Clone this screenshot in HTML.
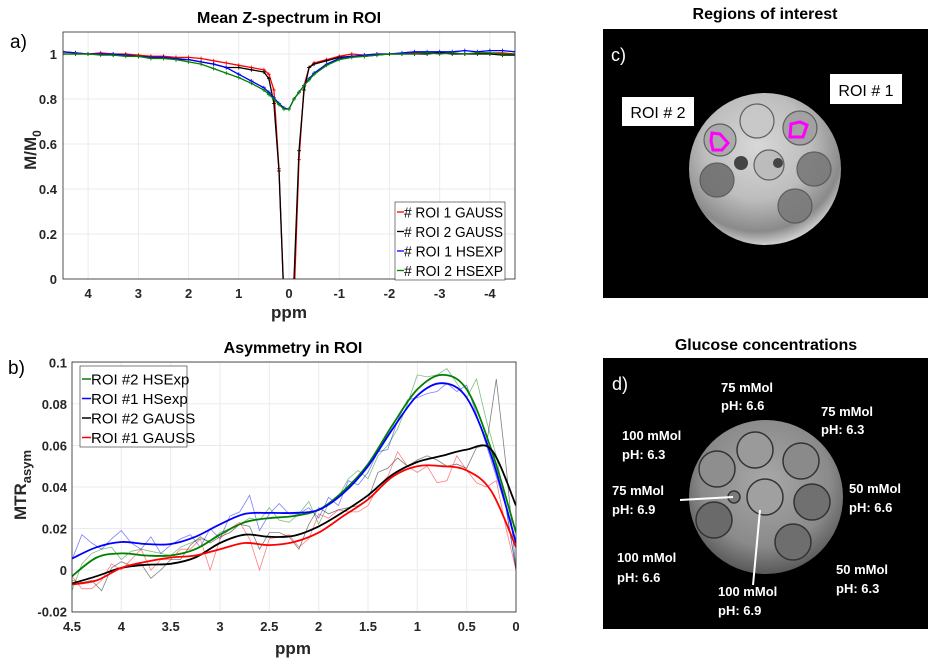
<!DOCTYPE html>
<html><head><meta charset="utf-8">
<style>
body{margin:0;background:#fff;width:939px;height:667px;overflow:hidden;font-family:"Liberation Sans",Arial,sans-serif}
svg text{font-family:"Liberation Sans",Arial,sans-serif}
</style></head>
<body>
<svg id="fig" width="939" height="667" viewBox="0 0 939 667" xmlns="http://www.w3.org/2000/svg">
<defs>
<clipPath id="clipA"><rect x="63" y="32" width="452" height="247"/></clipPath>
<clipPath id="clipB"><rect x="72" y="362" width="444" height="250"/></clipPath>
<radialGradient id="phantomC" cx="0.45" cy="0.35" r="0.7">
<stop offset="0" stop-color="#d8d8d8"/><stop offset="0.5" stop-color="#bdbdbd"/><stop offset="0.8" stop-color="#8a8a8a"/><stop offset="1" stop-color="#f2f2f2"/></radialGradient>
<radialGradient id="phantomD" cx="0.5" cy="0.4" r="0.7">
<stop offset="0" stop-color="#a8a8a8"/><stop offset="0.6" stop-color="#8a8a8a"/><stop offset="0.85" stop-color="#5a5a5a"/><stop offset="1" stop-color="#e8e8e8"/></radialGradient>
</defs>

<text x="289" y="23" font-size="16" font-weight="bold" text-anchor="middle">Mean Z-spectrum in ROI</text>
<text x="10" y="48" font-size="19">a)</text>
<text x="293" y="353" font-size="16" font-weight="bold" text-anchor="middle">Asymmetry in ROI</text>
<text x="8" y="374" font-size="19">b)</text>

<g id="chartA"></g>
<g id="chartB"></g>

<g>
<text x="765" y="19" font-size="16" font-weight="bold" text-anchor="middle">Regions of interest</text>
<rect x="603" y="29" width="325" height="269" fill="#000"/>
<circle cx="765" cy="169" r="76" fill="url(#phantomC)"/>
<g stroke="#555" stroke-width="1.2" opacity="0.9">
<circle cx="757" cy="121" r="17" fill="#c8c8c8"/>
<circle cx="800" cy="128" r="17" fill="#a0a0a0"/>
<circle cx="720" cy="140" r="16" fill="#a8a8a8"/>
<circle cx="769" cy="165" r="15" fill="#bbbbbb"/>
<circle cx="814" cy="169" r="17" fill="#7a7a7a"/>
<circle cx="717" cy="180" r="17" fill="#707070"/>
<circle cx="795" cy="206" r="17" fill="#7a7a7a"/>
</g>
<circle cx="741" cy="163" r="7" fill="#444"/>
<circle cx="778" cy="163" r="5" fill="#444"/>
<path d="M791,124 L800,122 L807,125 L803,137 L790,137 Z" fill="none" stroke="#ff00ff" stroke-width="3"/>
<path d="M712,133 L720,134 L728,143 L722,150 L713,150 L711,141 Z" fill="none" stroke="#ff00ff" stroke-width="3"/>
<text x="611" y="61" font-size="18" fill="#fff">c)</text>
<rect x="622" y="97" width="72" height="29" fill="#fff"/>
<text x="658" y="118" font-size="16" text-anchor="middle">ROI # 2</text>
<rect x="830" y="74" width="72" height="30" fill="#fff"/>
<text x="866" y="96" font-size="16" text-anchor="middle">ROI # 1</text>
</g>

<g>
<text x="766" y="350" font-size="16" font-weight="bold" text-anchor="middle">Glucose concentrations</text>
<rect x="603" y="358" width="325" height="271" fill="#000"/>
<circle cx="766" cy="497" r="77" fill="url(#phantomD)"/>
<g stroke="#333" stroke-width="1.5">
<circle cx="755" cy="450" r="18" fill="#9a9a9a"/>
<circle cx="801" cy="461" r="18" fill="#8a8a8a"/>
<circle cx="717" cy="469" r="18" fill="#8e8e8e"/>
<circle cx="765" cy="497" r="18" fill="#a0a0a0"/>
<circle cx="812" cy="502" r="18" fill="#707070"/>
<circle cx="714" cy="520" r="18" fill="#6a6a6a"/>
<circle cx="793" cy="542" r="18" fill="#6e6e6e"/>
<circle cx="734" cy="497" r="6" fill="#7a7a7a"/>
</g>
<line x1="680" y1="500" x2="733" y2="497" stroke="#fff" stroke-width="2"/>
<line x1="760" y1="510" x2="753" y2="585" stroke="#fff" stroke-width="2"/>
<text x="612" y="390" font-size="18" fill="#fff">d)</text>
<g fill="#fff" font-size="13" font-weight="bold">
<text x="721" y="392">75 mMol</text><text x="721" y="410">pH: 6.6</text>
<text x="821" y="416">75 mMol</text><text x="821" y="434">pH: 6.3</text>
<text x="622" y="440">100 mMol</text><text x="622" y="459">pH: 6.3</text>
<text x="612" y="495">75 mMol</text><text x="612" y="514">pH: 6.9</text>
<text x="849" y="493">50 mMol</text><text x="849" y="512">pH: 6.6</text>
<text x="617" y="562">100 mMol</text><text x="617" y="582">pH: 6.6</text>
<text x="836" y="574">50 mMol</text><text x="836" y="593">pH: 6.3</text>
<text x="718" y="596">100 mMol</text><text x="718" y="615">pH: 6.9</text>
</g>
</g>
</svg>

<script>
const zPpm = [4.5,4.25,4,3.75,3.5,3.25,3,2.75,2.5,2.25,2,1.75,1.5,1.25,1,0.75,0.5,0.4,0.3,0.2,0.1,0,-0.1,-0.2,-0.3,-0.4,-0.5,-0.75,-1,-1.25,-1.5,-1.75,-2,-2.25,-2.5,-2.75,-3,-3.25,-3.5,-3.75,-4,-4.25,-4.5];
const zRoi1Gauss = [1.01,1.005,1.0,1.005,1.0,1.0,0.995,0.99,0.99,0.985,0.985,0.98,0.97,0.96,0.95,0.94,0.93,0.91,0.84,0.49,-0.1,-0.2,-0.1,0.53,0.86,0.94,0.96,0.975,0.99,1.0,0.995,1.0,1.0,1.0,1.005,1.005,1.005,1.005,1.0,1.005,1.005,1.005,1.0];
const zRoi2Gauss = [1.0,1.0,1.0,1.0,0.995,0.995,0.99,0.985,0.985,0.975,0.975,0.965,0.955,0.94,0.94,0.93,0.92,0.89,0.78,0.48,-0.1,-0.2,0.0,0.57,0.84,0.94,0.955,0.97,0.985,0.99,0.99,0.995,1.0,1.0,1.0,1.0,1.005,1.0,1.0,1.0,1.0,0.995,0.995];
const zRoi1Hsexp = [1.01,1.005,1.0,1.0,1.0,0.995,0.99,0.985,0.985,0.98,0.975,0.965,0.955,0.94,0.91,0.88,0.85,0.83,0.805,0.78,0.76,0.755,0.8,0.83,0.86,0.89,0.915,0.955,0.98,0.99,0.995,1.0,1.0,1.005,1.01,1.01,1.01,1.01,1.015,1.01,1.015,1.015,1.01];
const zRoi2Hsexp = [1.0,1.0,1.0,0.995,0.995,0.99,0.99,0.98,0.98,0.975,0.965,0.955,0.935,0.915,0.895,0.87,0.84,0.82,0.8,0.775,0.755,0.755,0.8,0.83,0.86,0.885,0.91,0.95,0.975,0.985,0.99,0.995,1.0,1.0,1.0,1.005,1.0,1.005,1.0,1.005,1.005,1.0,1.0];
const zXTicks = [4,3,2,1,0,-1,-2,-3,-4];
const zXTickLabels = ["4","3","2","1","0","-1","-2","-3","-4"];
const zYTicks = [0,0.2,0.4,0.6,0.8,1];
const zYTickLabels = ["0","0.2","0.4","0.6","0.8","1"];
const zLegend = ["# ROI 1 GAUSS","# ROI 2 GAUSS","# ROI 1 HSEXP","# ROI 2 HSEXP"];

const aPpmRaw = [4.5,4.4,4.3,4.2,4.1,4.0,3.9,3.8,3.7,3.6,3.5,3.4,3.3,3.2,3.1,3.0,2.9,2.8,2.7,2.6,2.5,2.4,2.3,2.2,2.1,2.0,1.9,1.8,1.7,1.6,1.5,1.4,1.3,1.2,1.1,1.0,0.9,0.8,0.7,0.6,0.5,0.4,0.3,0.2,0.1,0.0];
const aRawRoi2Hs = [-0.01,0.003,0.008,0.01,0.011,0.005,0.009,0.01,0.009,0.008,0.007,0.011,0.013,0.015,0.014,0.018,0.02,0.022,0.025,0.024,0.03,0.024,0.023,0.027,0.033,0.022,0.032,0.035,0.044,0.048,0.044,0.055,0.06,0.068,0.08,0.094,0.093,0.094,0.097,0.09,0.083,0.092,0.072,0.055,0.03,0.0];
const aRawRoi1Hs = [0.005,0.017,0.013,0.01,0.015,0.019,0.013,0.01,0.016,0.008,0.012,0.015,0.017,0.011,0.02,0.015,0.026,0.028,0.036,0.019,0.027,0.032,0.027,0.027,0.03,0.025,0.035,0.031,0.043,0.041,0.047,0.057,0.058,0.072,0.082,0.083,0.085,0.086,0.09,0.086,0.089,0.075,0.06,0.045,0.03,0.0];
const aRawRoi2Ga = [-0.005,-0.006,-0.005,-0.01,0.001,0.004,0.002,0.003,-0.004,0.0,0.005,0.005,0.012,0.016,0.013,0.016,0.018,0.022,0.021,0.01,0.018,0.018,0.016,0.01,0.022,0.03,0.027,0.029,0.03,0.031,0.034,0.047,0.049,0.054,0.05,0.053,0.055,0.053,0.05,0.051,0.049,0.059,0.06,0.092,0.05,0.0];
const aRawRoi1Ga = [-0.003,-0.009,-0.009,-0.005,0.003,0.0,0.005,0.01,0.0,0.005,0.005,0.01,0.01,0.015,0.0,0.015,0.02,0.023,0.015,0.0,0.015,0.016,0.017,0.011,0.015,0.027,0.025,0.029,0.028,0.028,0.031,0.04,0.045,0.057,0.05,0.047,0.05,0.042,0.043,0.055,0.048,0.042,0.04,0.043,0.02,0.0];
const aPpmFit = [4.5,4.25,4,3.75,3.5,3.25,3,2.75,2.5,2.25,2,1.75,1.5,1.25,1,0.75,0.5,0.25,0];
const aFitRoi2Hs = [-0.003,0.006,0.008,0.007,0.007,0.01,0.017,0.023,0.025,0.026,0.029,0.038,0.051,0.07,0.087,0.094,0.087,0.058,0.018];
const aFitRoi1Hs = [0.0055,0.011,0.0135,0.0125,0.0125,0.016,0.022,0.027,0.0275,0.0275,0.029,0.037,0.05,0.068,0.084,0.09,0.083,0.055,0.013];
const aFitRoi2Ga = [-0.0065,-0.003,0.001,0.0025,0.003,0.006,0.013,0.017,0.016,0.0165,0.021,0.028,0.036,0.046,0.052,0.055,0.058,0.058,0.031];
const aFitRoi1Ga = [-0.007,-0.005,0.001,0.004,0.006,0.007,0.01,0.013,0.012,0.0135,0.018,0.026,0.034,0.045,0.05,0.05,0.048,0.038,0.011];
const aXTicks = [4.5,4,3.5,3,2.5,2,1.5,1,0.5,0];
const aXTickLabels = ["4.5","4","3.5","3","2.5","2","1.5","1","0.5","0"];
const aYTicks = [-0.02,0,0.02,0.04,0.06,0.08,0.1];
const aYTickLabels = ["-0.02","0","0.02","0.04","0.06","0.08","0.1"];
const aLegend = ["ROI #2 HSExp","ROI #1 HSexp","ROI #2 GAUSS","ROI #1 GAUSS"];

const NS = "http://www.w3.org/2000/svg";
function mk(parent, tag, attrs){const e=document.createElementNS(NS,tag);for(const k in attrs)e.setAttribute(k,attrs[k]);parent.appendChild(e);return e;}

(function(){
  const g = document.getElementById('chartA');
  const L=63,R=515,T=32,B=279;
  const xA = v => L + (4.5 - v) * (R-L)/9;
  const yA = v => B - v * 225;
  zXTicks.forEach(t=>{const l=mk(g,'line',{x1:xA(t),x2:xA(t),y1:T,y2:B,stroke:'#ebebeb','stroke-width':1});
    
    });
  zYTicks.forEach(t=>{const l=mk(g,'line',{x1:L,x2:R,y1:yA(t),y2:yA(t),stroke:'#ebebeb','stroke-width':1});
    
    });
  const series=[[zRoi1Gauss,'#ff0000'],[zRoi2Gauss,'#000000'],[zRoi1Hsexp,'#0000ff'],[zRoi2Hsexp,'#008000']];
  const names=['series-roi1-gauss','series-roi2-gauss','series-roi1-hsexp','series-roi2-hsexp'];
  const cg=mk(g,'g',{'clip-path':'url(#clipA)'});
  series.forEach((s,i)=>{
    const d=s[0].map((v,j)=>(j?'L':'M')+xA(zPpm[j]).toFixed(1)+','+yA(v).toFixed(1)).join(' ');
    const p=mk(cg,'path',{d:d,fill:'none',stroke:s[1],'stroke-width':1.3});
    
    
    s[0].forEach((v,j)=>{const m=mk(cg,'path',{d:`M${xA(zPpm[j])-2},${yA(v)} h4 M${xA(zPpm[j])},${yA(v)-2} v4`,stroke:s[1],'stroke-width':0.8});
      
      });
  });
  const ax=mk(g,'rect',{x:L,y:T,width:R-L,height:B-T,fill:'none',stroke:'#262626','stroke-width':0.8});
  
  
  zXTicks.forEach((t,i)=>{const tx=mk(g,'text',{x:xA(t),y:298,'font-size':13,'font-weight':'bold','text-anchor':'middle',fill:'#262626'});tx.textContent=zXTickLabels[i];
    
    });
  zYTicks.forEach((t,i)=>{const tx=mk(g,'text',{x:57,y:yA(t)+5,'font-size':13,'font-weight':'bold','text-anchor':'end',fill:'#262626'});tx.textContent=zYTickLabels[i];
    
    });
  const xl=mk(g,'text',{x:289,y:318,'font-size':17,'font-weight':'bold','text-anchor':'middle',fill:'#262626'});xl.textContent='ppm';
  
  
  const yl=mk(g,'text',{x:0,y:0,'font-size':17,'font-weight':'bold','text-anchor':'middle',fill:'#262626',transform:'translate(36,150) rotate(-90)'});
  yl.innerHTML='M/M<tspan font-size="12" dy="5">0</tspan>';
  
  
  const lg=mk(g,'g',{});
  
  
  mk(lg,'rect',{x:395,y:202,width:110,height:78,fill:'#fff',stroke:'#262626','stroke-width':0.6});
  zLegend.forEach((n,i)=>{const y=212+i*19.5;
    const ln=mk(lg,'line',{x1:397,x2:404,y1:y,y2:y,stroke:series[i][1],'stroke-width':1.3});
    
    
    const tx=mk(lg,'text',{x:404,y:y+5.5,'font-size':15,fill:'#000',textLength:99,lengthAdjust:'spacingAndGlyphs'});tx.textContent=n;
    
    });
})();

(function(){
  const g = document.getElementById('chartB');
  const L=72,R=516,T=362,B=612;
  const xB = v => L + (4.5 - v) * (R-L)/4.5;
  const yB = v => 570 - v * 2076;
  aXTicks.forEach(t=>{const l=mk(g,'line',{x1:xB(t),x2:xB(t),y1:T,y2:B,stroke:'#ebebeb','stroke-width':1});
    
    });
  aYTicks.forEach(t=>{const l=mk(g,'line',{x1:L,x2:R,y1:yB(t),y2:yB(t),stroke:'#ebebeb','stroke-width':1});
    
    });
  const cols=['#008000','#0000ff','#000000','#ff0000'];
  const raws=[aRawRoi2Hs,aRawRoi1Hs,aRawRoi2Ga,aRawRoi1Ga];
  const fits=[aFitRoi2Hs,aFitRoi1Hs,aFitRoi2Ga,aFitRoi1Ga];
  const cg=mk(g,'g',{'clip-path':'url(#clipB)'});
  raws.forEach((s,i)=>{
    const d=s.map((v,j)=>(j?'L':'M')+xB(aPpmRaw[j]).toFixed(1)+','+yB(v).toFixed(1)).join(' ');
    const p=mk(cg,'path',{d:d,fill:'none',stroke:cols[i],'stroke-width':0.8,opacity:0.5});
    
    
  });
  fits.forEach((s,i)=>{
    const pts=s.map((v,j)=>[xB(aPpmFit[j]),yB(v)]);
    let d='M'+pts[0][0]+','+pts[0][1];
    for(let j=0;j<pts.length-1;j++){
      const p0=pts[Math.max(0,j-1)],p1=pts[j],p2=pts[j+1],p3=pts[Math.min(pts.length-1,j+2)];
      const c1=[p1[0]+(p2[0]-p0[0])/6,p1[1]+(p2[1]-p0[1])/6];
      const c2=[p2[0]-(p3[0]-p1[0])/6,p2[1]-(p3[1]-p1[1])/6];
      d+=` C${c1[0].toFixed(1)},${c1[1].toFixed(1)} ${c2[0].toFixed(1)},${c2[1].toFixed(1)} ${p2[0].toFixed(1)},${p2[1].toFixed(1)}`;
    }
    const p=mk(cg,'path',{d:d,fill:'none',stroke:cols[i],'stroke-width':1.8});
    
    
  });
  const ax=mk(g,'rect',{x:L,y:T,width:R-L,height:B-T,fill:'none',stroke:'#262626','stroke-width':0.8});
  
  
  aXTicks.forEach((t,i)=>{const tx=mk(g,'text',{x:xB(t),y:631,'font-size':13,'font-weight':'bold','text-anchor':'middle',fill:'#262626'});tx.textContent=aXTickLabels[i];
    
    });
  aYTicks.forEach((t,i)=>{const tx=mk(g,'text',{x:67,y:yB(t)+5,'font-size':13,'font-weight':'bold','text-anchor':'end',fill:'#262626'});tx.textContent=aYTickLabels[i];
    
    });
  const xl=mk(g,'text',{x:293,y:654,'font-size':17,'font-weight':'bold','text-anchor':'middle',fill:'#262626'});xl.textContent='ppm';
  
  
  const yl=mk(g,'text',{x:0,y:0,'font-size':17,'font-weight':'bold','text-anchor':'middle',fill:'#262626',transform:'translate(26,485) rotate(-90)'});
  yl.innerHTML='MTR<tspan font-size="13" dy="5">asym</tspan>';
  
  
  const lg=mk(g,'g',{});
  
  
  mk(lg,'rect',{x:80,y:366,width:107,height:81,fill:'#fff',stroke:'#262626','stroke-width':0.6});
  aLegend.forEach((n,i)=>{const y=379+i*19.5;
    const ln=mk(lg,'line',{x1:82,x2:91,y1:y,y2:y,stroke:cols[i],'stroke-width':1.5});
    
    
    const tx=mk(lg,'text',{x:91,y:y+5.5,'font-size':15,fill:'#000'});tx.textContent=n;
    
    });
})();
</script>
</body></html>
